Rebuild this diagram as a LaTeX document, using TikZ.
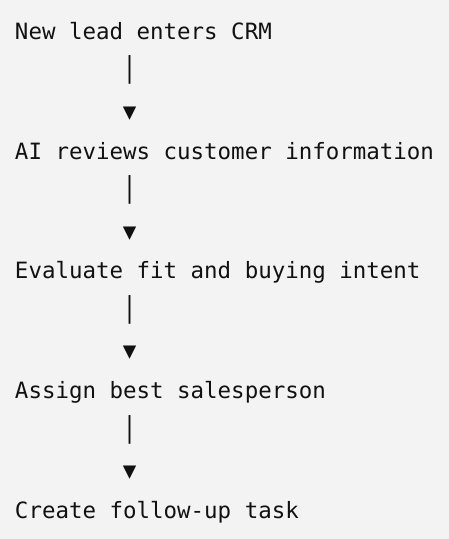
\documentclass[tikz,border=0pt]{standalone}
\usepackage{fontspec}
\setmonofont{DejaVu Sans Mono}
\definecolor{bg}{HTML}{F3F3F3}
\definecolor{ink}{HTML}{111111}
\tikzset{
  line/.style={anchor=base west, inner sep=0pt, outer sep=0pt, text=ink,
    font=\ttfamily\fontsize{22.45pt}{26pt}\selectfont},
}
\newcommand{\tallbar}{\scalebox{1}[1.28]{|}}
\begin{document}
\begin{tikzpicture}[x=1pt,y=1pt]
\fill[bg] (0,0) rectangle (449,-539);
\useasboundingbox (0,0) rectangle (449,-539);
\def\lx{15}
\def\ax{122.8}
\node[line] (t1) at (\lx,-39.5) {New lead enters CRM};
\node[line] (b1) at (\ax,-77.7) {\tallbar};
\node[line] (a1) at (\ax,-119.3) {▼};
\node[line] (t2) at (\lx,-159.2) {AI reviews customer information};
\node[line] (b2) at (\ax,-197.6) {\tallbar};
\node[line] (a2) at (\ax,-239.0) {▼};
\node[line] (t3) at (\lx,-278.9) {Evaluate fit and buying intent};
\node[line] (b3) at (\ax,-317.5) {\tallbar};
\node[line] (a3) at (\ax,-358.7) {▼};
\node[line] (t4) at (\lx,-398.6) {Assign best salesperson};
\node[line] (b4) at (\ax,-437.4) {\tallbar};
\node[line] (a4) at (\ax,-478.4) {▼};
\node[line] (t5) at (\lx,-518.3) {Create follow-up task};
\end{tikzpicture}
\end{document}
